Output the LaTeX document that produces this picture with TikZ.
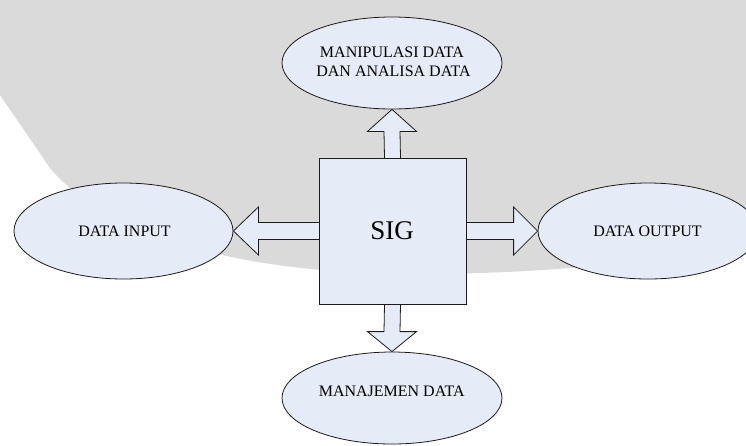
\documentclass[tikz,border=0pt]{standalone}
\usepackage{fontspec}
\setmainfont{Liberation Serif}
\usetikzlibrary{shapes.geometric,calc}

\definecolor{shapefill}{HTML}{E6ECF7}
\definecolor{shapeline}{HTML}{1A1A1A}
\definecolor{backgray}{HTML}{DADADA}

\begin{document}
\begin{tikzpicture}[x=1pt,y=-1pt,
  oval/.style={ellipse,draw=shapeline,fill=shapefill,line width=0.8pt,inner sep=0pt},
  core/.style={rectangle,draw=shapeline,fill=shapefill,line width=0.8pt,inner sep=0pt},
  blockarrow/.style={draw=shapeline,fill=shapefill,line width=0.8pt,line join=miter},
  lbl/.style={anchor=base,inner sep=0pt,font=\fontsize{16}{19}\selectfont},
  biglbl/.style={anchor=base,inner sep=0pt,font=\fontsize{27}{32}\selectfont}]

% page and backdrop
\clip (0,0) rectangle (746,445);
\fill[white] (0,0) rectangle (746,445);
\fill[backgray] (0,0) -- (0,95) -- (50,168)
  .. controls (110,240) and (250,272) .. (400,274)
  .. controls (560,275) and (680,258) .. (746,244) -- (746,0) -- cycle;

% outer ovals
\node[oval,minimum width=220pt,minimum height=92pt] (manip) at (392,63) {};
\node[oval,minimum width=219pt,minimum height=96pt] (input) at (123.5,231) {};
\node[oval,minimum width=220pt,minimum height=96pt] (output) at (648,231) {};
\node[oval,minimum width=220pt,minimum height=92pt] (manaj) at (392,398) {};

% central block position (drawn after the arrows)
\coordinate (sigc) at (392.5,231);
\coordinate (sign) at (392.5,158);
\coordinate (sigs) at (392.5,304);
\coordinate (sigw) at (319,231);
\coordinate (sige) at (466,231);

% block arrows
\draw[blockarrow] ($(sign)+(-8,0)$) -- ($(manip.south)+(-8,22)$) -- ($(manip.south)+(-24.5,22)$)
  -- (manip.south) -- ($(manip.south)+(24.5,22)$) -- ($(manip.south)+(8,22)$) -- ($(sign)+(8,0)$);
\draw[blockarrow] ($(sigs)+(-8,0)$) -- ($(manaj.north)+(-8,-20)$) -- ($(manaj.north)+(-24.5,-20)$)
  -- (manaj.north) -- ($(manaj.north)+(24.5,-20)$) -- ($(manaj.north)+(8,-20)$) -- ($(sigs)+(8,0)$);
\draw[blockarrow] ($(sigw)+(0,-8.5)$) -- ($(input.east)+(25,-8.5)$) -- ($(input.east)+(25,-24)$)
  -- (input.east) -- ($(input.east)+(25,24)$) -- ($(input.east)+(25,8.5)$) -- ($(sigw)+(0,8.5)$);
\draw[blockarrow] ($(sige)+(0,-8.5)$) -- ($(output.west)+(-24,-8.5)$) -- ($(output.west)+(-24,-24)$)
  -- (output.west) -- ($(output.west)+(-24,24)$) -- ($(output.west)+(-24,8.5)$) -- ($(sige)+(0,8.5)$);

% central block
\node[core,minimum width=147pt,minimum height=146pt] (sig) at (sigc) {};

% labels
\node[lbl] (manipa) at (392,57.3) {MANIPULASI DATA};
\node[lbl] (manipb) at (393.5,76.7) {DAN ANALISA DATA};
\node[lbl] (inputl) at (124.5,236.7) {DATA INPUT};
\node[lbl] (outputl) at (647.5,236) {DATA OUTPUT};
\node[lbl] (manajl) at (391.7,396) {MANAJEMEN DATA};
\node[biglbl] (sigl) at (392,239.3) {SIG};
\end{tikzpicture}
\end{document}
